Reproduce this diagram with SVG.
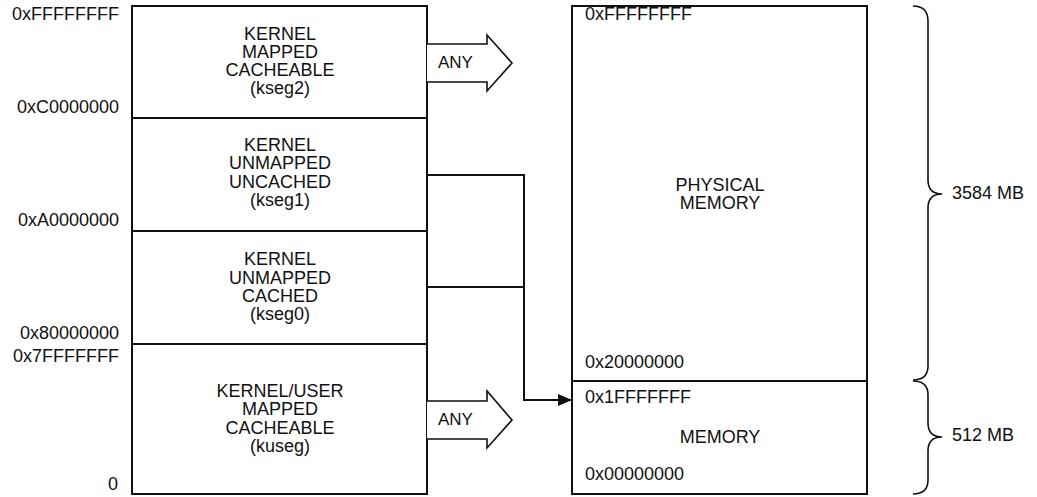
<svg xmlns="http://www.w3.org/2000/svg" width="1037" height="497" viewBox="0 0 1037 497">
<style>
text{font-family:"Liberation Sans",Arial,sans-serif;font-size:18px;fill:#111}
.c{text-anchor:middle}
.r{text-anchor:end}
.s{font-size:17px}
.box{fill:#fff;stroke:#111;stroke-width:2}
.ln{fill:none;stroke:#111;stroke-width:2}
.fat{fill:#fff;stroke:#111;stroke-width:1.6;stroke-linejoin:miter}
.br{fill:none;stroke:#111;stroke-width:1.6}
</style>
<defs>
<marker id="ah" markerWidth="14" markerHeight="12" refX="14" refY="6" orient="auto" markerUnits="userSpaceOnUse">
<path d="M0,0 L14,6 L0,12 Z" fill="#111"/>
</marker>
</defs>
<rect width="1037" height="497" fill="#fff"/>
<g id="addr-labels">
<text class="r" x="119" y="20">0xFFFFFFFF</text>
<text class="r" x="119" y="113">0xC0000000</text>
<text class="r" x="119" y="226">0xA0000000</text>
<text class="r" x="119" y="339">0x80000000</text>
<text class="r" x="119" y="362">0x7FFFFFFF</text>
<text class="r" x="118" y="490">0</text>
</g>
<g id="kseg2">
<rect class="box" x="132" y="6" width="295" height="112"/>
<text class="c" x="280" y="39.5">KERNEL</text>
<text class="c" x="280" y="57.5">MAPPED</text>
<text class="c" x="280" y="76">CACHEABLE</text>
<text class="c" x="280" y="94">(kseg2)</text>
</g>
<g id="kseg1">
<rect class="box" x="132" y="118" width="295" height="113"/>
<text class="c" x="280" y="151">KERNEL</text>
<text class="c" x="280" y="169">UNMAPPED</text>
<text class="c" x="280" y="187.5">UNCACHED</text>
<text class="c" x="280" y="205.5">(kseg1)</text>
</g>
<g id="kseg0">
<rect class="box" x="132" y="231" width="295" height="113"/>
<text class="c" x="280" y="265">KERNEL</text>
<text class="c" x="280" y="283.5">UNMAPPED</text>
<text class="c" x="280" y="302">CACHED</text>
<text class="c" x="280" y="320">(kseg0)</text>
</g>
<g id="kuseg">
<rect class="box" x="132" y="344" width="295" height="150"/>
<text class="c" x="280" y="397">KERNEL/USER</text>
<text class="c" x="280" y="415">MAPPED</text>
<text class="c" x="280" y="433.5">CACHEABLE</text>
<text class="c" x="280" y="451.5">(kuseg)</text>
</g>
<g id="physical">
<rect class="box" x="572" y="6" width="295" height="375"/>
<text x="585" y="20">0xFFFFFFFF</text>
<text class="c" x="720" y="191">PHYSICAL</text>
<text class="c" x="720" y="209">MEMORY</text>
<text x="585" y="368">0x20000000</text>
</g>
<g id="memory">
<rect class="box" x="572" y="381" width="295" height="113"/>
<text x="585" y="403">0x1FFFFFFF</text>
<text class="c" x="720" y="443">MEMORY</text>
<text x="585" y="480">0x00000000</text>
</g>
<g id="connectors">
<path class="fat" d="M427,44 L487,44 L487,35 L512,63 L487,91 L487,82 L427,82"/>
<text class="s" x="438" y="68">ANY</text>
<path class="fat" d="M427,401 L487,401 L487,391 L512,420 L487,448 L487,439 L427,439"/>
<text class="s" x="438" y="425">ANY</text>
<path class="ln" d="M427,175 L524,175 L524,400 L572,400" marker-end="url(#ah)"/>
<path class="ln" d="M427,287 L524,287"/>
</g>
<g id="braces">
<path class="br" d="M913,6 Q928,6 928,21 L928,180 Q928,194 942,194 Q928,194 928,208 L928,366 Q928,380 913,380"/>
<text x="952" y="199">3584 MB</text>
<path class="br" d="M913,381 Q928,381 928,395 L928,423 Q928,437 942,437 Q928,437 928,451 L928,480 Q928,494 913,494"/>
<text x="952" y="441">512 MB</text>
</g>
</svg>
